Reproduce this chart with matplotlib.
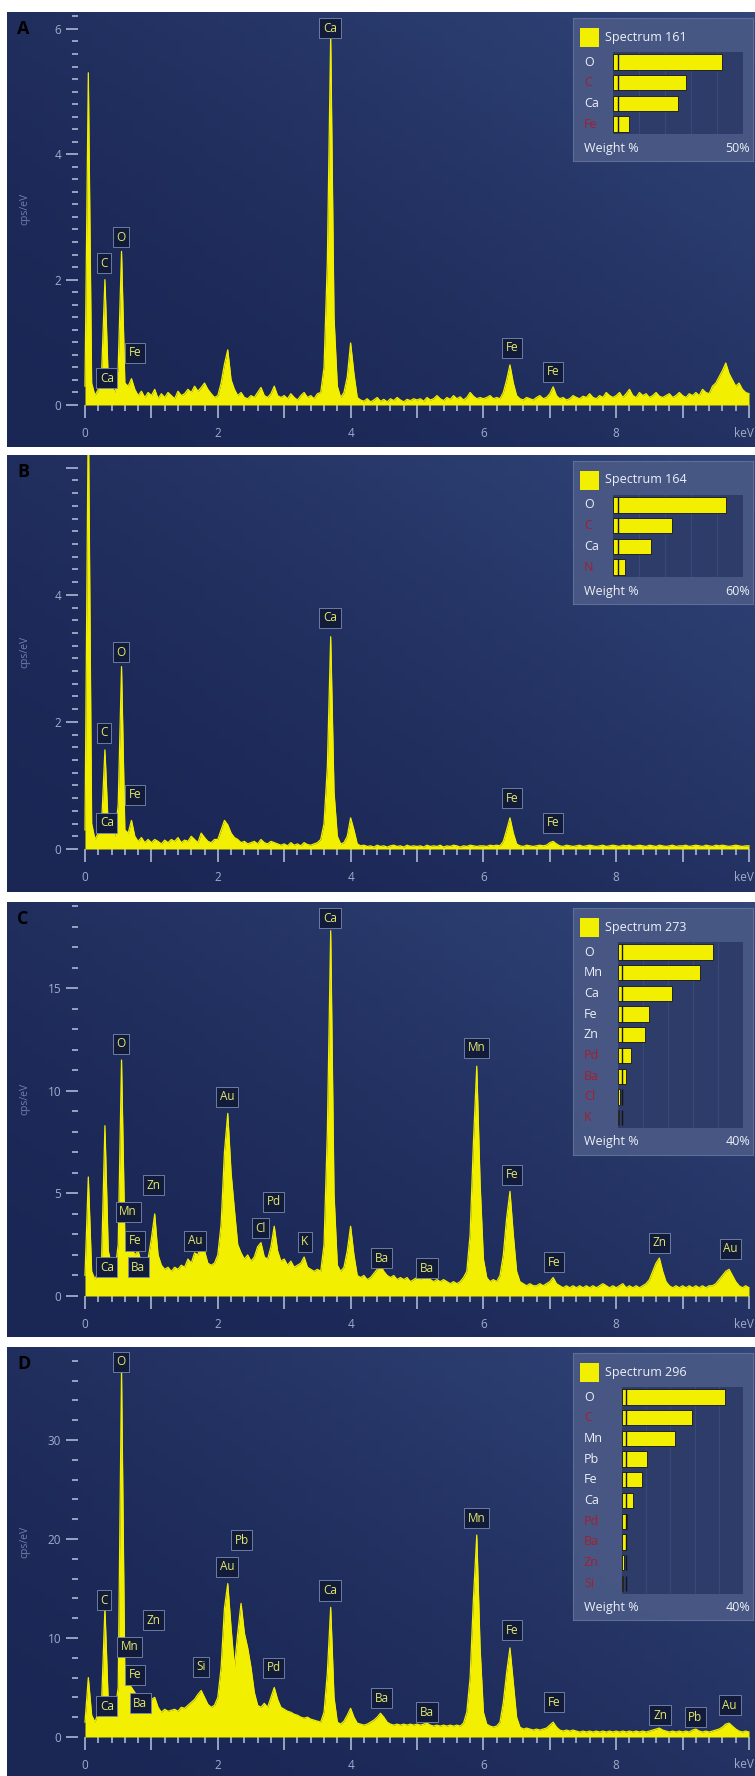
import numpy as np
import matplotlib.pyplot as plt
import matplotlib.transforms as mtransforms

plt.rcParams['font.family'] = ['Open Sans', 'DejaVu Sans']

W, H = 755, 1776

# energy channels (keV), 0.05 keV step
energy = np.linspace(0, 10, 201)

# spectra (cps/eV)
counts_a = [
    0.3, 5.3, 0.35, 0.15, 0.25, 0.5, 2.0, 0.4, 0.3, 0.2, 0.6, 2.45, 0.35, 0.3, 0.42, 0.25, 0.15, 0.22, 0.12, 0.2,
    0.15, 0.25, 0.1, 0.18, 0.12, 0.2, 0.15, 0.1, 0.22, 0.15, 0.18, 0.25, 0.2, 0.3, 0.22, 0.28, 0.35, 0.25, 0.18, 0.12,
    0.15, 0.35, 0.65, 0.88, 0.4, 0.25, 0.15, 0.2, 0.12, 0.1, 0.15, 0.12, 0.2, 0.28, 0.15, 0.12, 0.18, 0.3, 0.15, 0.12,
    0.15, 0.1, 0.18, 0.12, 0.08, 0.15, 0.2, 0.12, 0.15, 0.1, 0.18, 0.2, 0.6, 2.3, 5.9, 1.4, 0.3, 0.12, 0.2, 0.45,
    0.99, 0.5, 0.12, 0.08, 0.06, 0.1, 0.05, 0.08, 0.12, 0.06, 0.09, 0.05, 0.1, 0.07, 0.12, 0.08, 0.05, 0.09, 0.07, 0.1,
    0.08, 0.1, 0.06, 0.12, 0.08, 0.1, 0.15, 0.1, 0.07, 0.12, 0.09, 0.15, 0.1, 0.13, 0.08, 0.12, 0.2, 0.14, 0.1, 0.12,
    0.1, 0.12, 0.15, 0.1, 0.12, 0.1, 0.2, 0.4, 0.64, 0.35, 0.15, 0.1, 0.08, 0.12, 0.1, 0.08, 0.12, 0.15, 0.1, 0.12,
    0.18, 0.29, 0.15, 0.1, 0.12, 0.08, 0.1, 0.15, 0.12, 0.1, 0.14, 0.12, 0.18, 0.12, 0.1, 0.15, 0.12, 0.2, 0.15, 0.12,
    0.15, 0.2, 0.12, 0.18, 0.25, 0.15, 0.12, 0.2, 0.15, 0.18, 0.12, 0.15, 0.2, 0.14, 0.12, 0.15, 0.18, 0.12, 0.15, 0.2,
    0.15, 0.12, 0.18, 0.15, 0.2, 0.15, 0.25, 0.2, 0.18, 0.3, 0.35, 0.45, 0.55, 0.67, 0.5, 0.4, 0.3, 0.35, 0.25, 0.2,
    0.18]

counts_b = [
    0.3, 7.0, 0.4, 0.15, 0.25, 0.4, 1.56, 0.35, 0.3, 0.2, 0.7, 2.87, 0.3, 0.25, 0.45, 0.2, 0.12, 0.18, 0.1, 0.15,
    0.1, 0.15, 0.12, 0.08, 0.14, 0.1, 0.15, 0.12, 0.18, 0.1, 0.14, 0.12, 0.2, 0.15, 0.1, 0.25, 0.18, 0.12, 0.1, 0.15,
    0.15, 0.3, 0.45, 0.38, 0.25, 0.18, 0.15, 0.1, 0.12, 0.08, 0.1, 0.12, 0.08, 0.15, 0.1, 0.08, 0.12, 0.1, 0.08, 0.06,
    0.08, 0.05, 0.1, 0.06, 0.08, 0.05, 0.1, 0.07, 0.06, 0.08, 0.1, 0.15, 0.4, 1.3, 3.34, 0.9, 0.2, 0.08, 0.1, 0.2,
    0.49, 0.3, 0.08, 0.05, 0.06, 0.04, 0.05, 0.03, 0.06, 0.04, 0.05, 0.03, 0.05, 0.06, 0.04, 0.05, 0.03, 0.06, 0.04, 0.05,
    0.04, 0.05, 0.03, 0.06, 0.04, 0.05, 0.04, 0.06, 0.03, 0.05, 0.04, 0.06, 0.05, 0.03, 0.05, 0.04, 0.06, 0.05, 0.04, 0.05,
    0.05, 0.04, 0.06, 0.05, 0.06, 0.05, 0.12, 0.3, 0.49, 0.25, 0.08, 0.05, 0.04, 0.06, 0.05, 0.04, 0.05, 0.06, 0.05, 0.06,
    0.1, 0.12, 0.08, 0.05, 0.04, 0.06, 0.05, 0.04, 0.05, 0.06, 0.04, 0.05, 0.06, 0.05, 0.04, 0.05, 0.06, 0.04, 0.05, 0.06,
    0.05, 0.04, 0.06, 0.05, 0.06, 0.04, 0.05, 0.06, 0.05, 0.04, 0.06, 0.05, 0.04, 0.06, 0.05, 0.04, 0.05, 0.06, 0.04, 0.05,
    0.05, 0.06, 0.04, 0.05, 0.06, 0.05, 0.04, 0.06, 0.05, 0.04, 0.06, 0.05, 0.06, 0.05, 0.04, 0.05, 0.06, 0.05, 0.04, 0.05,
    0.05]

counts_c = [
    1.0, 5.8, 1.2, 0.8, 1.2, 1.8, 8.3, 2.2, 1.5, 1.2, 2.5, 11.5, 2.8, 2.6, 2.4, 2.0, 2.2, 1.6, 1.4, 1.8,
    2.8, 4.0, 2.0, 1.5, 1.3, 1.4, 1.2, 1.4, 1.3, 1.5, 1.4, 1.8, 1.6, 2.1, 2.0, 2.6, 2.2, 1.6, 1.5, 1.6,
    2.0, 3.5, 7.0, 8.9, 6.0, 4.2, 2.5, 2.1, 1.8, 2.0, 1.7, 1.9, 2.4, 2.6, 1.9, 1.8, 2.4, 3.4, 2.2, 1.7,
    1.8, 1.5, 1.7, 1.4, 1.5, 1.6, 1.9, 1.4, 1.3, 1.2, 1.3, 1.2, 2.5, 8.0, 17.8, 5.0, 1.5, 1.2, 1.4, 2.2,
    3.4, 2.0, 1.0, 0.9, 1.0, 0.8, 0.9, 1.1, 1.3, 1.5, 1.2, 1.0, 0.9, 1.0, 0.8, 0.9, 0.8, 0.9, 0.7, 0.8,
    0.9, 0.8, 1.0, 1.1, 0.8, 0.7, 0.8, 0.7, 0.8, 0.7, 0.6, 0.7, 0.6, 0.7, 0.9, 1.2, 3.0, 7.5, 11.2, 5.5,
    1.8, 0.9, 0.7, 0.8, 0.7, 1.0, 2.0, 3.8, 5.1, 3.0, 1.2, 0.7, 0.6, 0.5, 0.6, 0.5, 0.5, 0.6, 0.5, 0.6,
    0.7, 0.9, 0.6, 0.5, 0.4, 0.5, 0.4, 0.5, 0.4, 0.5, 0.4, 0.5, 0.4, 0.5, 0.4, 0.5, 0.6, 0.5, 0.4, 0.5,
    0.4, 0.5, 0.6, 0.4, 0.5, 0.4, 0.5, 0.4, 0.5, 0.6, 0.8, 1.2, 1.6, 1.85, 1.2, 0.7, 0.5, 0.4, 0.5, 0.4,
    0.5, 0.4, 0.5, 0.4, 0.5, 0.4, 0.5, 0.4, 0.5, 0.5, 0.6, 0.8, 1.0, 1.2, 1.3, 1.0, 0.7, 0.5, 0.4, 0.5,
    0.4]

counts_d = [
    1.5, 6.0, 2.2, 1.5, 2.5, 3.5, 13.0, 3.5, 3.0, 2.5, 5.0, 37.0, 6.0, 5.5, 5.0, 4.5, 4.0, 3.2, 3.0, 3.5,
    3.8, 4.0, 3.0, 2.5, 2.8, 2.6, 2.7, 2.8, 2.6, 3.0, 2.9, 3.2, 3.5, 3.8, 4.3, 4.7, 4.0, 3.3, 3.0, 3.2,
    4.0, 7.0, 13.0, 15.5, 11.0, 7.0, 10.5, 13.5, 10.5, 9.0, 7.0, 4.5, 3.2, 3.0, 3.4, 3.0, 4.0, 5.0, 3.8, 3.0,
    2.8, 2.6, 2.5, 2.3, 2.2, 2.0, 1.9, 2.0, 1.8, 1.7, 1.6, 1.5, 2.5, 6.5, 13.1, 4.0, 1.5, 1.3, 1.6, 2.2,
    2.9, 2.0, 1.4, 1.3, 1.2, 1.3, 1.5, 1.7, 2.0, 2.4, 2.0, 1.5, 1.3, 1.2, 1.3, 1.2, 1.3, 1.2, 1.3, 1.2,
    1.3, 1.2, 1.3, 1.4, 1.2, 1.1, 1.2, 1.1, 1.2, 1.1, 1.2, 1.1, 1.2, 1.1, 1.4, 2.5, 6.0, 14.0, 20.4, 9.0,
    2.5, 1.3, 1.1, 1.0, 1.1, 1.5, 3.5, 6.5, 9.0, 5.5, 2.0, 1.0, 0.8, 0.9, 0.8, 0.7, 0.8, 0.7, 0.8, 0.9,
    1.2, 1.5, 1.0, 0.7, 0.6, 0.7, 0.6, 0.7, 0.6, 0.5, 0.6, 0.5, 0.6, 0.5, 0.6, 0.5, 0.6, 0.5, 0.6, 0.5,
    0.6, 0.5, 0.6, 0.5, 0.6, 0.5, 0.6, 0.5, 0.6, 0.5, 0.6, 0.7, 0.8, 0.9, 0.7, 0.6, 0.5, 0.6, 0.5, 0.6,
    0.5, 0.6, 0.5, 0.7, 0.8, 0.6, 0.5, 0.6, 0.5, 0.6, 0.7, 0.8, 1.0, 1.3, 1.4, 1.1, 0.8, 0.6, 0.5, 0.6,
    0.5]

# peak labels: element, energy (keV), height (cps/eV)
lab_a = ['Ca', 'O', 'C', 'Fe', 'Ca', 'Fe', 'Fe']
lab_a_kev = [3.69, 0.54, 0.29, 0.75, 0.33, 6.43, 7.05]
lab_a_cps = [6.01, 2.68, 2.26, 0.83, 0.43, 0.91, 0.53]

lab_b = ['Ca', 'O', 'C', 'Fe', 'Ca', 'Fe', 'Fe']
lab_b_kev = [3.69, 0.54, 0.29, 0.75, 0.33, 6.43, 7.05]
lab_b_cps = [3.64, 3.1, 1.83, 0.85, 0.41, 0.8, 0.41]

lab_c = ['Ca', 'O', 'Au', 'Zn', 'Mn', 'Fe', 'Ba', 'Ca', 'Au', 'Cl', 'Pd', 'K',
         'Ba', 'Ba', 'Mn', 'Fe', 'Fe', 'Zn', 'Au']
lab_c_kev = [3.69, 0.54, 2.14, 1.03, 0.65, 0.75, 0.8, 0.33, 1.66, 2.64, 2.84, 3.31,
             4.47, 5.15, 5.9, 6.43, 7.06, 8.65, 9.72]
lab_c_cps = [18.4, 12.3, 9.7, 5.4, 4.1, 2.7, 1.4, 1.4, 2.7, 3.3, 4.6, 2.65,
             1.85, 1.35, 12.1, 5.9, 1.65, 2.6, 2.3]

lab_d = ['O', 'C', 'Zn', 'Mn', 'Fe', 'Ba', 'Ca', 'Si', 'Au', 'Pb', 'Pd', 'Ca',
         'Ba', 'Ba', 'Mn', 'Fe', 'Fe', 'Zn', 'Pb', 'Au']
lab_d_kev = [0.54, 0.29, 1.03, 0.67, 0.75, 0.83, 0.33, 1.75, 2.14, 2.36, 2.84, 3.69,
             4.47, 5.15, 5.9, 6.43, 7.06, 8.66, 9.19, 9.71]
lab_d_cps = [37.9, 13.8, 11.8, 9.1, 6.3, 3.4, 3.1, 7.1, 17.2, 19.9, 7.0, 14.8,
             3.9, 2.5, 22.1, 10.8, 3.5, 2.2, 2.0, 3.2]

# quantification insets (weight %)
el_a = ['O', 'C', 'Ca', 'Fe']
wt_a = [42, 28, 25, 6]
red_a = [False, True, False, True]

el_b = ['O', 'C', 'Ca', 'N']
wt_b = [52, 27, 17.5, 5.5]
red_b = [False, True, False, True]

el_c = ['O', 'Mn', 'Ca', 'Fe', 'Zn', 'Pd', 'Ba', 'Cl', 'K']
wt_c = [30.4, 26.2, 17.3, 9.9, 8.6, 4.2, 2.6, 0.6, 0.4]
red_c = [False, False, False, False, False, True, True, True, True]

el_d = ['O', 'C', 'Mn', 'Pb', 'Fe', 'Ca', 'Pd', 'Ba', 'Zn', 'Si']
wt_d = [34, 23, 17.5, 8.3, 6.6, 3.6, 1.5, 1.2, 0.8, 0.3]
red_d = [False, True, False, False, False, False, True, True, True, True]

YELLOW = '#f2ef00'
TICKC = '#a0acca'


def rect(x0, y0, x1, y1):
    return [x0 / W, 1 - y1 / H, (x1 - x0) / W, (y1 - y0) / H]


# background gradient
gx, gy = np.meshgrid(np.linspace(0, 1, 60), np.linspace(0, 1, 60))
t = np.clip(0.55 * gx + 0.45 * gy, 0, 1) ** 1.6
dark = np.array([26, 38, 84]) / 255
light = np.array([50, 70, 122]) / 255
grad = dark + (light - dark) * t[..., None]

panels = [
    # letter, top, bottom, y0 px, ymax, major ticks, minor step, data, labels, inset
    ('A', 12, 447, 405, 6.27, [0, 2, 4, 6], 0.2, counts_a, (lab_a, lab_a_kev, lab_a_cps),
     (el_a, wt_a, red_a, 50, 'Spectrum 161', 613)),
    ('B', 455, 892, 849, 6.2, [0, 2, 4, 6], 0.2, counts_b, (lab_b, lab_b_kev, lab_b_cps),
     (el_b, wt_b, red_b, 60, 'Spectrum 164', 613)),
    ('C', 902, 1337, 1296, 19.2, [0, 5, 10, 15], 1, counts_c, (lab_c, lab_c_kev, lab_c_cps),
     (el_c, wt_c, red_c, 40, 'Spectrum 273', 618)),
    ('D', 1347, 1776, 1737, 39.4, [0, 10, 20, 30], 2, counts_d, (lab_d, lab_d_kev, lab_d_cps),
     (el_d, wt_d, red_d, 40, 'Spectrum 296', 622)),
]

fig = plt.figure(figsize=(W / 100, H / 100), dpi=100)
fig.patch.set_facecolor('white')

for letter, top, bottom, y0, ymax, yt, ystep, counts, labs, inset in panels:
    bg = fig.add_axes(rect(7, top, 755, bottom))
    bg.imshow(grad, extent=[0, 1, 0, 1], aspect='auto', origin='lower')
    bg.set_axis_off()

    ax = fig.add_axes(rect(78, top, 755, y0))
    ax.patch.set_alpha(0)
    ax.fill_between(energy, 0, counts, color=YELLOW, lw=0, zorder=2)
    ax.plot(energy, counts, color=YELLOW, lw=0.9, zorder=3)
    ax.set_xlim((78 - 85) / 66.4, (755 - 85) / 66.4)
    ax.set_ylim(0, ymax)
    for s in ax.spines.values():
        s.set_visible(False)

    ax.set_xticks(np.arange(0, 11, 1))
    ax.set_xticklabels(['0', '', '2', '', '4', '', '6', '', '8', '', ''])
    ax.set_xticks(np.arange(0, 10.01, 0.2), minor=True)
    ax.set_yticks(yt)
    ax.set_yticklabels([str(v) for v in yt] if letter != 'B' else ['0', '2', '4', ''])
    ax.set_yticks(np.arange(0, ymax, ystep), minor=True)
    ax.tick_params(axis='both', which='both', colors=TICKC, labelsize=8.5, width=1.3)
    ax.tick_params(axis='x', which='major', length=9, pad=7)
    ax.tick_params(axis='x', which='minor', length=4)
    ax.tick_params(axis='y', which='major', length=9, pad=3)
    ax.tick_params(axis='y', which='minor', length=4)
    ax.text(10.07, -0.055, 'keV', transform=ax.get_xaxis_transform(), ha='right',
            va='top', fontsize=8.5, color=TICKC)

    names, kev, cps = labs
    for n, x, y in zip(names, kev, cps):
        ax.text(x, y, n, ha='center', va='center', fontsize=8.5, color='#e2e86e', zorder=6,
                bbox=dict(boxstyle='square,pad=0.3', fc='#121b3a', ec='#7a8ab2', lw=0.6))

    fig.text(25 / W, 1 - (top + y0) / 2 / H, 'cps/eV', rotation=90, ha='center', va='center',
             fontsize=7.5, color='#6f80aa')
    fig.text(17 / W, 1 - (top + 17) / H, letter, ha='left', va='center', fontsize=13,
             fontweight='bold', color='black')

    # inset with weight %
    els, wts, reds, scale, title, bx0 = inset
    n = len(els)
    pitch = 20.7
    row0 = top + 50
    last = row0 + pitch * (n - 1)
    iax = fig.add_axes(rect(573, top + 6, 753, last + 37))
    iax.set_facecolor('#4a5985')
    iax.patch.set_alpha(0.92)
    iax.set_xticks([])
    iax.set_yticks([])
    for s in iax.spines.values():
        s.set_color('#5f6e98')
        s.set_linewidth(0.8)

    bax = fig.add_axes(rect(bx0, row0 - pitch / 2, 743, last + pitch / 2))
    bax.set_facecolor('#2d3c68')
    bax.barh(range(n), wts, height=0.74, color=YELLOW, edgecolor='#222222', lw=0.7)
    bax.vlines([scale * 0.035] * n, np.arange(n) - 0.37, np.arange(n) + 0.37,
               color='#151515', lw=1.0)
    for g in np.linspace(0, scale, 6)[1:-1]:
        bax.axvline(g, color='#3a4a78', lw=0.8, zorder=0)
    bax.set_xlim(0, scale)
    bax.set_ylim(n - 0.5, -0.5)
    bax.set_xticks([])
    bax.set_yticks([])
    for s in bax.spines.values():
        s.set_visible(False)
    tr = mtransforms.blended_transform_factory(bax.transAxes, bax.transData)
    lx = (584 - bx0) / (743 - bx0)
    for i, (e, r) in enumerate(zip(els, reds)):
        bax.text(lx, i, e, transform=tr, ha='left', va='center', fontsize=9,
                 color='#a81e2c' if r else '#eef1f8', clip_on=False)

    fig.patches.append(plt.Rectangle((580 / W, 1 - (top + 35) / H), 19 / W, 19 / H,
                                     transform=fig.transFigure, fc=YELLOW, ec='none',
                                     zorder=5, figure=fig))
    fig.text(605 / W, 1 - (top + 25) / H, title, ha='left', va='center', fontsize=9,
             color='#eef1f8', zorder=5)
    fig.text(584 / W, 1 - (last + 24) / H, 'Weight %', ha='left', va='center', fontsize=9,
             color='#eef1f8', zorder=5)
    fig.text(750 / W, 1 - (last + 24) / H, '%d%%' % scale, ha='right', va='center',
             fontsize=9, color='#eef1f8', zorder=5)

fig.savefig('out.png', dpi=100, facecolor='white')
